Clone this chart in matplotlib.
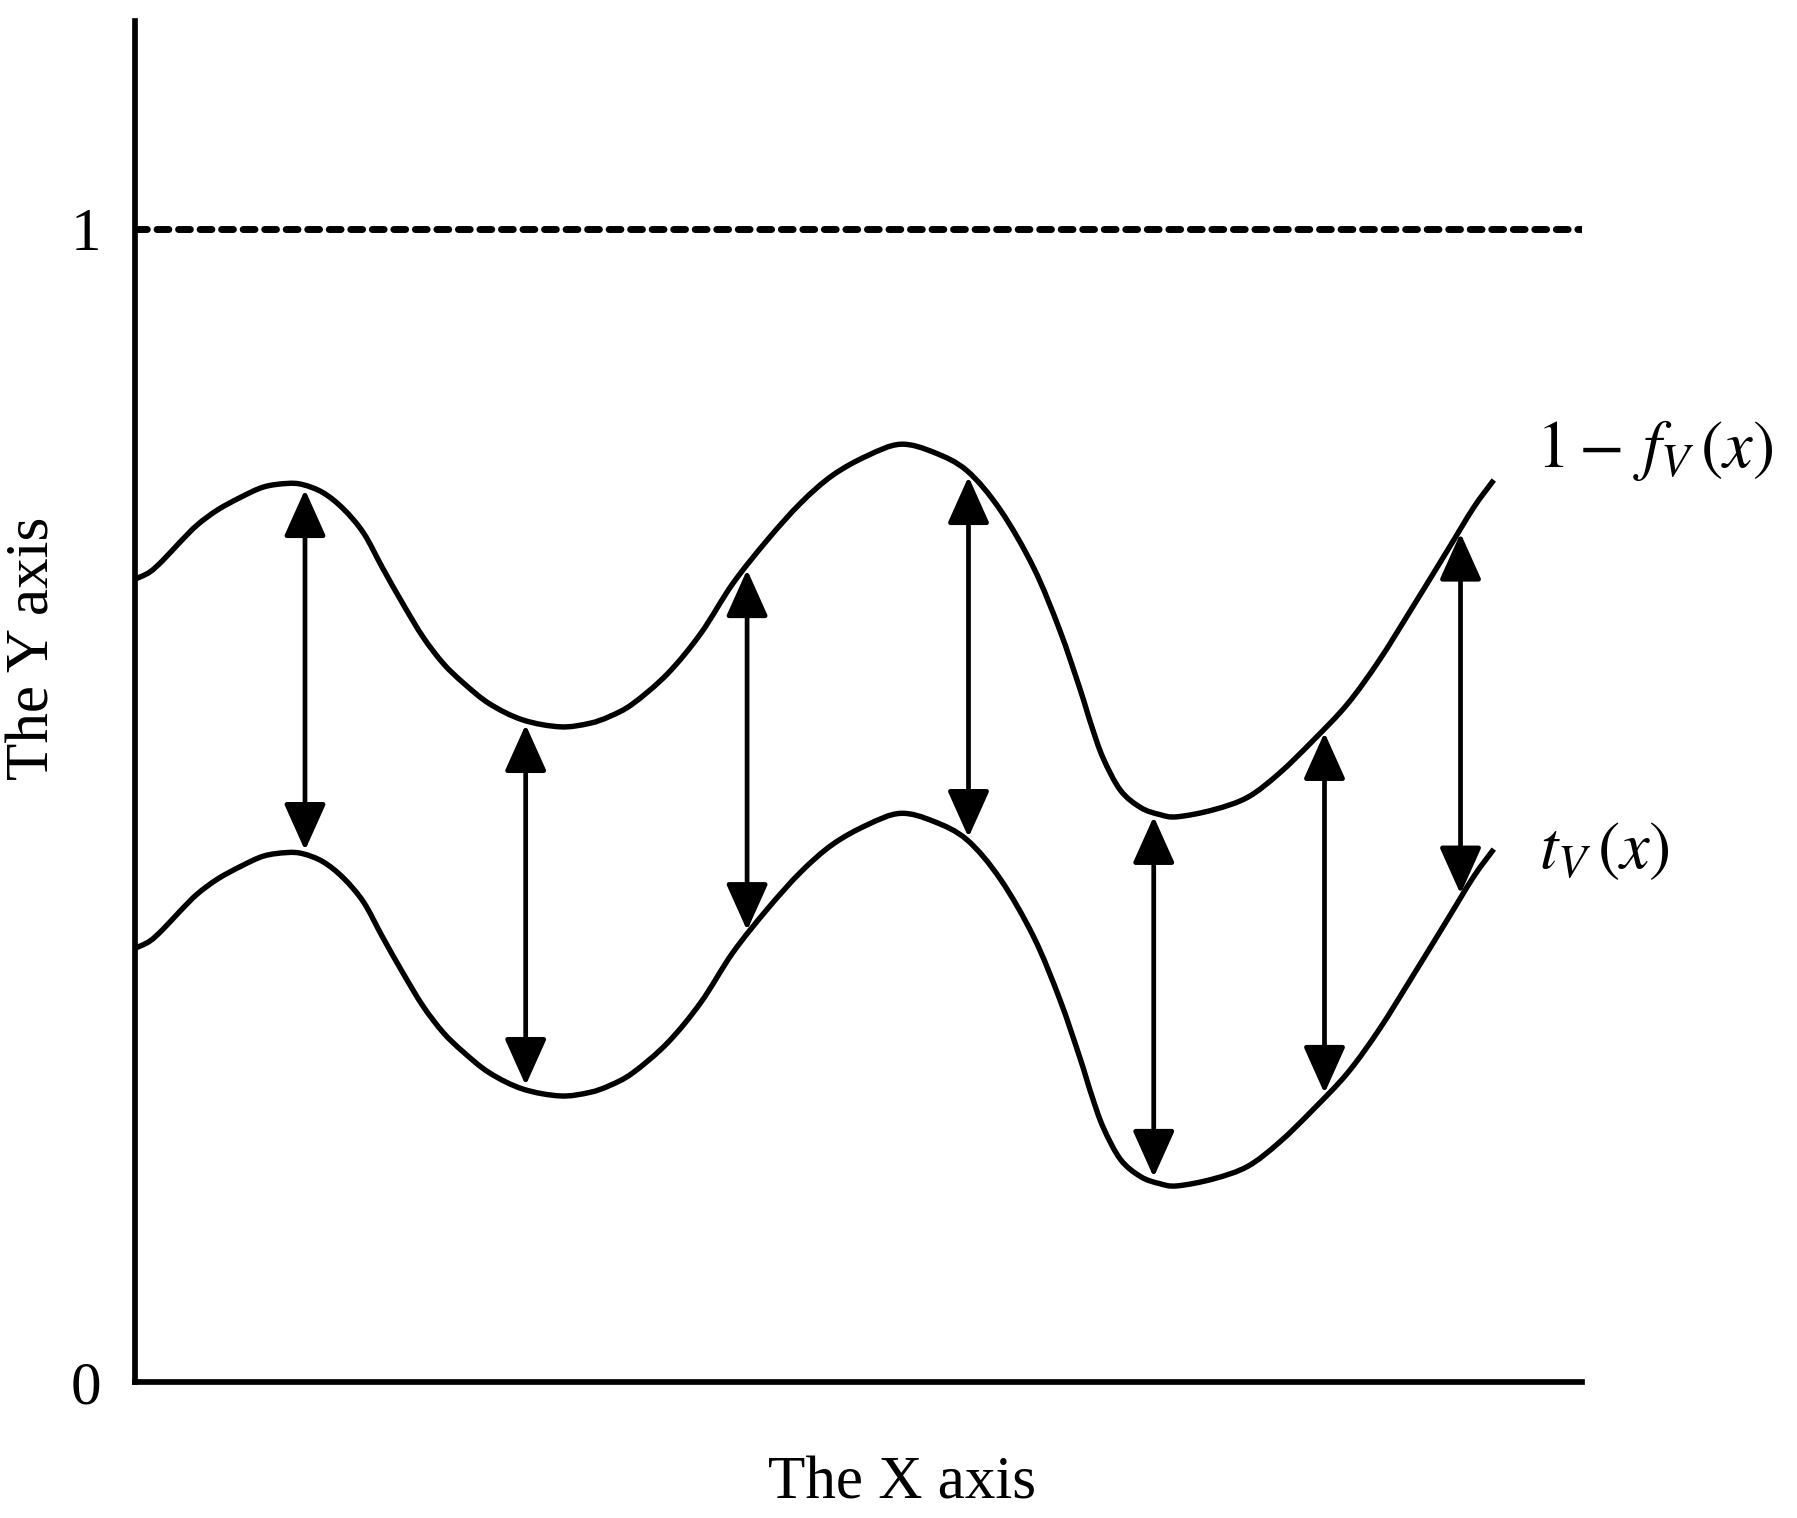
import numpy as np
import matplotlib
matplotlib.use("Agg")
import matplotlib.pyplot as plt
from matplotlib.path import Path
from matplotlib.patches import PathPatch

plt.rcParams['font.family'] = ['Liberation Serif', 'DejaVu Serif']
plt.rcParams['mathtext.fontset'] = 'stix'

# curve samples (x in % of axis width, y in axis units)
x_vals = [0.0, 1.0, 1.9, 3.1, 4.3, 5.7, 7.3, 8.9, 10.5, 11.6, 13.0, 14.4,
          15.8, 17.1, 18.5, 19.9, 21.3, 22.7, 24.5, 26.8, 29.4, 31.4, 32.8,
          34.4, 36.8, 39.1, 41.3, 43.7, 46.0, 48.2, 50.6, 52.9, 55.2, 57.5,
          59.8, 62.1, 63.9, 65.3, 66.1, 66.9, 68.1, 69.5, 70.8, 72.0, 74.5,
          76.9, 79.1, 81.4, 83.8, 86.0, 88.3, 90.7, 92.5, 93.9]

upper_y = [0.696, 0.702, 0.712, 0.728, 0.743, 0.756, 0.767, 0.776, 0.779,
           0.778, 0.771, 0.757, 0.736, 0.706, 0.675, 0.646, 0.623, 0.606,
           0.588, 0.574, 0.568, 0.571, 0.577, 0.588, 0.614, 0.649, 0.692,
           0.730, 0.762, 0.786, 0.803, 0.813, 0.806, 0.790, 0.756, 0.706,
           0.652, 0.601, 0.569, 0.541, 0.513, 0.498, 0.492, 0.490, 0.496,
           0.507, 0.528, 0.556, 0.588, 0.626, 0.672, 0.721, 0.758, 0.782]

lower_y = [0.376, 0.382, 0.392, 0.408, 0.423, 0.436, 0.447, 0.456, 0.459,
           0.458, 0.451, 0.437, 0.416, 0.386, 0.355, 0.326, 0.303, 0.286,
           0.268, 0.254, 0.248, 0.251, 0.257, 0.268, 0.294, 0.329, 0.372,
           0.410, 0.442, 0.466, 0.483, 0.493, 0.486, 0.470, 0.436, 0.386,
           0.332, 0.281, 0.249, 0.221, 0.193, 0.178, 0.172, 0.170, 0.176,
           0.187, 0.208, 0.236, 0.268, 0.306, 0.352, 0.401, 0.438, 0.462]

arrow_x = [11.75, 27.0, 42.3, 57.6, 70.4, 82.2, 91.6]

upper_label = r'$1-\,f_V\,(x)$'
lower_label = r'$t_V\,(x)$'


def smooth_path(xs, ys):
    # draw the sampled points as one smooth bezier path (catmull-rom tangents)
    p = np.column_stack([xs, ys])
    verts = [p[0]]
    codes = [Path.MOVETO]
    for i in range(len(p) - 1):
        p0 = p[i - 1] if i > 0 else p[i]
        p3 = p[i + 2] if i + 2 < len(p) else p[i + 1]
        c1 = p[i] + (p[i + 1] - p0) / 6
        c2 = p[i + 1] - (p3 - p[i]) / 6
        verts += [c1, c2, p[i + 1]]
        codes += [Path.CURVE4] * 3
    return Path(verts, codes)


fig = plt.figure(figsize=(17.97, 15.18), dpi=100)
ax = fig.add_axes([0.0751, 0.0896, 0.8053, 0.8966])

for ys in [upper_y, lower_y]:
    ax.add_patch(PathPatch(smooth_path(x_vals, ys), facecolor='none',
                           edgecolor='black', lw=3.9, capstyle='butt'))

ax.axhline(1.0, color='black', lw=5, linestyle=(0, (1.7, 1.4)),
           dash_capstyle='round')

top_ends = np.interp(arrow_x, x_vals, upper_y)
bot_ends = np.interp(arrow_x, x_vals, lower_y)
for xa, yt, yb in zip(arrow_x, top_ends, bot_ends):
    ax.annotate('', xy=(xa, yt), xytext=(xa, yb),
                arrowprops=dict(arrowstyle='<|-|>,head_length=1.45,head_width=0.65',
                                mutation_scale=20, lw=3.4, color='black',
                                shrinkA=3, shrinkB=3))

ax.text(96.8, 0.793, upper_label, fontsize=48, ha='left', va='baseline',
        clip_on=False)
ax.text(97.0, 0.4454, lower_label, fontsize=48, ha='left', va='baseline',
        clip_on=False)

ax.set_xlim(0, 100)
ax.set_ylim(0, 1.18)
ax.set_xticks([])
ax.set_yticks([0, 1])
ax.set_yticklabels(['0', '1'])
ax.tick_params(axis='y', length=0, pad=24, labelsize=44)

for side in ['top', 'right']:
    ax.spines[side].set_visible(False)
for side in ['left', 'bottom']:
    ax.spines[side].set_linewidth(4.1)
    ax.spines[side].set_capstyle('projecting')

fig.text(0.502, 0.0224, 'The X axis', fontsize=44, ha='center', va='center')
fig.text(0.019, 0.573, 'The Y axis', fontsize=44, ha='center', va='center',
         rotation=90)

fig.savefig('out.png', dpi=100, facecolor='white')
